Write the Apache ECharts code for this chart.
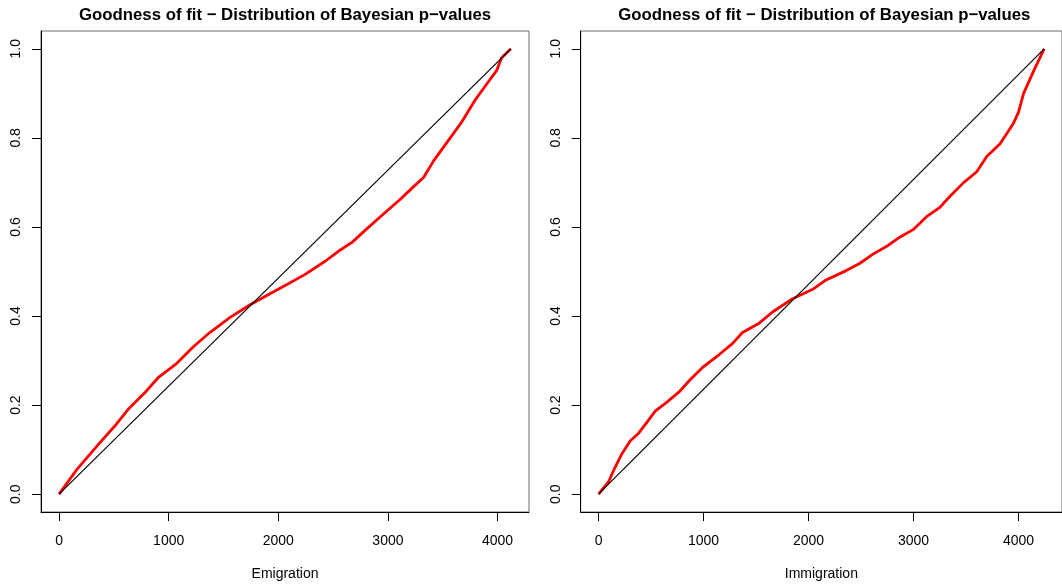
<!DOCTYPE html>
<html>
<head>
<meta charset="utf-8">
<script src="https://cdn.jsdelivr.net/npm/echarts@6/dist/echarts.min.js"></script>
<style>
  html, body { margin: 0; padding: 0; background: #fff; }
  #chart { width: 1062px; height: 586px; }
</style>
</head>
<body>
<div id="chart"></div>
<script>
// Shared text and tick values
const titleText = 'Goodness of fit \u2212 Distribution of Bayesian p\u2212values';
const xTicks = [0, 1000, 2000, 3000, 4000];
const yTicks = [0, 0.2, 0.4, 0.6, 0.8, 1.0];

// Emigration: number of draws and sorted Bayesian p-values
const emigName = 'Emigration';
const emigN = 4122;
const emigX = [0, 167, 353, 508, 632, 786, 910, 1065, 1220, 1375, 1560, 1746, 1932, 2087, 2241, 2427, 2551, 2675, 2799, 2954, 3108, 3232, 3325, 3418, 3542, 3666, 3790, 3913, 3991, 4037, 4122];
const emigY = [0, 0.057, 0.110, 0.153, 0.191, 0.229, 0.263, 0.292, 0.330, 0.363, 0.397, 0.426, 0.451, 0.472, 0.493, 0.523, 0.546, 0.566, 0.594, 0.628, 0.661, 0.690, 0.711, 0.749, 0.791, 0.833, 0.883, 0.925, 0.951, 0.980, 1.0];

// Immigration: number of draws and sorted Bayesian p-values
const immigName = 'Immigration';
const immigN = 4244;
const immigX = [0, 96, 159, 223, 303, 382, 462, 542, 637, 765, 861, 988, 1147, 1275, 1371, 1530, 1657, 1849, 2040, 2167, 2359, 2486, 2614, 2741, 2868, 2996, 3124, 3251, 3347, 3474, 3602, 3697, 3824, 3952, 4000, 4048, 4143, 4244];
const immigY = [0, 0.028, 0.061, 0.091, 0.120, 0.137, 0.162, 0.187, 0.204, 0.229, 0.254, 0.284, 0.313, 0.338, 0.363, 0.384, 0.409, 0.439, 0.460, 0.481, 0.502, 0.518, 0.539, 0.556, 0.577, 0.594, 0.623, 0.644, 0.669, 0.699, 0.724, 0.758, 0.787, 0.833, 0.858, 0.900, 0.950, 1.0];

const FONT = '"Liberation Sans", Arial, Helvetica, sans-serif';
const zip = (xs, ys) => xs.map((x, i) => [x, ys[i]]);

// Panel geometry (pixels)
const panels = [
  { left: 41, top: 31, width: 488, height: 481, name: emigName, n: emigN, xs: emigX, ys: emigY },
  { left: 580.7, top: 31, width: 487.3, height: 481, name: immigName, n: immigN, xs: immigX, ys: immigY }
];

const grids = [], xAxes = [], yAxes = [], series = [], graphics = [];
panels.forEach((p, i) => {
  grids.push({
    left: p.left, top: p.top, width: p.width, height: p.height,
    show: true, borderColor: '#6a6a6a', borderWidth: 1, backgroundColor: 'transparent'
  });
  // R-style 4% padding around the data range
  xAxes.push({
    type: 'value', gridIndex: i,
    min: -0.04 * p.n, max: 1.04 * p.n,
    name: p.name, nameLocation: 'middle', nameGap: 55,
    nameTextStyle: { fontFamily: FONT, fontSize: 14, color: '#000' },
    axisLine: { show: true, onZero: false, lineStyle: { color: '#000', width: 1 } },
    axisTick: { show: true, inside: false, length: 9, customValues: xTicks, lineStyle: { color: '#000', width: 1 } },
    axisLabel: { show: true, customValues: xTicks, margin: 22, fontFamily: FONT, fontSize: 14, color: '#000',
                 formatter: v => String(v) },
    splitLine: { show: false }
  });
  yAxes.push({
    type: 'value', gridIndex: i,
    min: -0.04, max: 1.04,
    axisLine: { show: true, onZero: false, lineStyle: { color: '#000', width: 1 } },
    axisTick: { show: true, inside: false, length: 9, customValues: yTicks, lineStyle: { color: '#000', width: 1 } },
    axisLabel: { show: true, customValues: yTicks, rotate: 90, margin: 18, fontFamily: FONT, fontSize: 14, color: '#000',
                 formatter: v => v.toFixed(1) },
    splitLine: { show: false }
  });
  series.push({
    type: 'line', xAxisIndex: i, yAxisIndex: i,
    data: zip(p.xs, p.ys), showSymbol: false, smooth: false,
    lineStyle: { color: '#ff0000', width: 2.8 }, z: 2
  });
  series.push({
    type: 'line', xAxisIndex: i, yAxisIndex: i,
    data: [[0, 0], [p.n, 1]], showSymbol: false,
    lineStyle: { color: '#000', width: 1.2 }, z: 3
  });
  graphics.push({
    type: 'text', x: p.left + p.width / 2, y: 15,
    style: { text: titleText, font: 'bold 16.8px ' + FONT, fill: '#000',
             textAlign: 'center', textVerticalAlign: 'middle' }
  });
});

const chart = echarts.init(document.getElementById('chart'), null, { renderer: 'canvas' });
chart.setOption({
  animation: false,
  backgroundColor: '#fff',
  grid: grids,
  xAxis: xAxes,
  yAxis: yAxes,
  series: series,
  graphic: graphics
});
</script>
</body>
</html>
